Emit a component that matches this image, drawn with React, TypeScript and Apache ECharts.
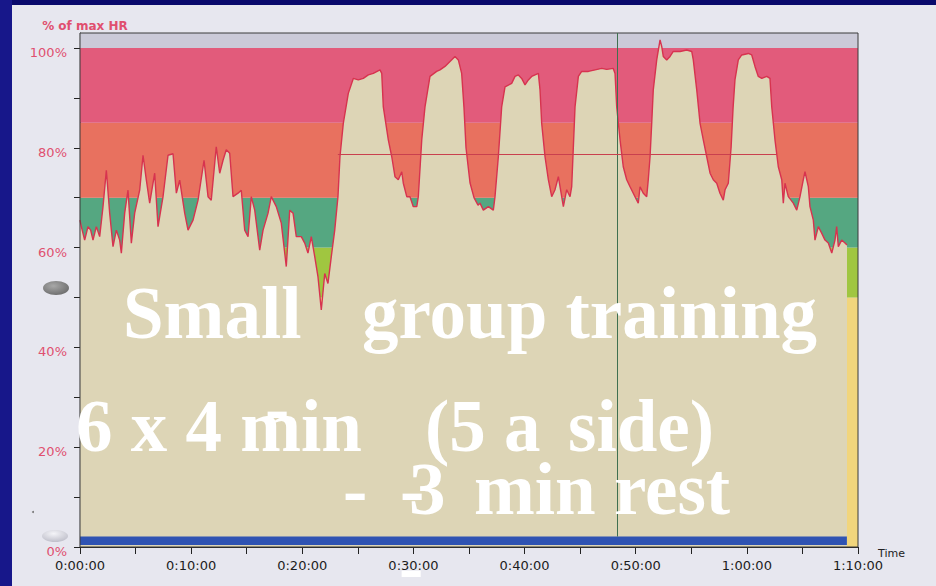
import React, { useEffect, useRef } from "react";
import * as echarts from "echarts";

// Heart-rate trace: time (minutes) and % of max HR
const hrTime = [
  0.0, 0.12, 0.42, 0.72, 0.96, 1.17, 1.47, 1.77, 2.07, 2.37, 2.67, 2.97, 3.27, 3.57, 3.72, 4.02, 4.32, 4.62, 4.92, 5.37,
  5.67, 5.97, 6.27, 6.72, 7.02, 7.47, 7.92, 8.37, 8.67, 8.97, 9.42, 9.72, 10.17, 10.62, 11.16, 11.52,
  11.81, 12.26, 12.57, 12.87, 13.16, 13.47, 13.77, 14.22, 14.51, 14.82, 15.12, 15.41, 15.72, 16.17, 16.47, 16.92, 17.21,
  17.66, 18.11, 18.56, 18.87, 19.17, 19.46, 19.91, 20.22, 20.51, 20.81, 21.12, 21.41, 21.71, 22.02, 22.31, 22.61, 22.92, 23.21,
  23.39, 23.69, 24.14, 24.59, 25.04, 25.49, 25.94, 26.39, 26.99, 27.15, 27.29, 27.74, 28.05, 28.34, 28.64, 28.95, 29.09,
  29.4, 29.69, 29.99, 30.3, 30.44, 30.75, 31.04, 31.49, 32.09, 32.39, 32.84, 33.29, 33.74, 34.04, 34.34, 34.55, 34.73,
  35.09, 35.45, 35.81,
  35.99, 36.29, 36.74, 37.19, 37.34, 37.64, 37.94, 38.24, 38.84, 39.14, 39.44, 39.74, 40.04, 40.34, 40.64, 41.24, 41.39,
  41.54, 41.84, 42.14, 42.44, 42.74, 43.04, 43.34, 43.49, 43.79, 44.09, 44.24, 44.54, 44.84, 45.14, 45.74, 46.34, 46.94,
  47.39, 47.98, 48.14, 48.29, 48.59, 48.88, 49.19, 49.49, 49.78, 50.09, 50.23, 50.39, 50.68, 50.99, 51.13, 51.29, 51.44,
  51.58, 51.89, 52.19, 52.34, 52.48, 52.79, 53.09, 53.38, 53.99, 54.59, 55.04, 55.18, 55.49, 55.79, 56.08, 56.39, 56.69,
  56.98, 57.29, 57.58, 57.88, 58.04, 58.33, 58.58, 58.76,
  58.93, 59.23, 59.54, 60.13, 60.44, 60.73, 61.03, 61.34, 61.79, 62.08, 62.24, 62.53, 62.83, 63.14, 63.28, 63.43, 63.73,
  64.18, 64.49, 64.78, 65.08, 65.23, 65.53, 65.68, 65.98, 66.13, 66.43, 66.73, 67.03, 67.33, 67.64, 67.93, 68.08, 68.23,
  68.53, 68.83, 69.01,
];
const hrPct = [
  65.5, 64.2, 61.5, 64.2, 63.5, 61.5, 64.2, 62.2, 68.2, 75.5, 66.9, 60.2, 63.5, 61.5, 58.9, 66.9, 71.5, 60.9, 66.9, 71.5,
  78.5, 73.5, 68.9, 74.9, 64.2, 70.2, 78.5, 78.8, 70.9, 73.5, 66.9, 63.5, 65.5, 69.5, 77.5, 70.2,
  69.5, 80.2, 74.9, 77.5, 79.6, 78.9, 70.2, 70.9, 71.5, 63.5, 62.2, 70.2, 67.5, 59.5, 63.5, 66.9, 70.2,
  68.2, 64.9, 56.2, 67.5, 66.9, 62.2, 62.2, 60.9, 58.9, 62.2, 58.2, 54.2, 47.5, 54.8, 52.8, 58.2, 63.5, 70.2,
  78.2, 84.9, 90.9, 93.9, 93.6, 93.9, 94.6, 94.9, 95.6, 94.9, 88.2, 81.6, 78.2, 74.2, 73.6, 75.2, 72.9,
  70.2, 70.2, 68.2, 68.2, 70.2, 81.6, 88.2, 94.3, 95.3, 95.6, 96.3, 97.3, 98.3, 97.6, 94.9, 88.0, 80.0,
  73.0, 70.0, 68.5,
  68.9, 67.5, 68.2, 67.5, 70.2, 78.2, 88.2, 92.2, 92.9, 94.3, 94.6, 93.9, 92.6, 93.6, 94.3, 94.9, 91.6,
  84.9, 78.2, 73.6, 70.2, 71.6, 74.2, 70.2, 68.2, 71.6, 70.2, 72.2, 88.2, 94.3, 95.3, 95.3, 95.6, 95.9,
  95.7, 95.9, 94.9, 88.2, 81.6, 76.2, 73.6, 72.2, 70.9, 69.5, 68.9, 72.2, 70.9, 70.2, 73.6, 78.2, 84.9,
  91.6, 97.6, 101.6, 100.3, 98.3, 97.6, 98.3, 99.3, 99.3, 99.6, 99.3, 97.6, 91.6, 84.9, 81.6, 78.2, 74.9,
  73.6, 72.9, 70.9, 69.5, 71.6, 72.9, 80.0, 88.0,
  93.6, 97.6, 98.6, 98.9, 98.6, 96.3, 94.3, 93.9, 94.3, 93.9, 88.2, 81.6, 76.2, 73.6, 68.9, 72.9, 70.2,
  68.9, 67.5, 70.2, 73.6, 75.2, 72.2, 68.2, 65.5, 61.5, 64.2, 62.9, 61.5, 60.9, 58.9, 61.5, 64.2, 60.2,
  61.5, 60.9, 60.5,
];

// Heart-rate zones (% of max HR) and their colours
const zoneBounds = [0, 50, 60, 70, 85, 100, 103];
const zoneColors = ["#f1d57c", "#a0c640", "#55a781", "#e8715f", "#e25b7b", "#cbcad8"];

// Y ticks (%), x ticks (minutes)
const yLabelValues = [0, 20, 40, 60, 80, 100];
const xLabelMinutes = [0, 10, 20, 30, 40, 50, 60, 70];

// Activity bar at the bottom (minutes / %)
const activityStart = 0;
const activityEnd = 69.0;
const activityLow = 0.4;
const activityHigh = 2.1;

// Markers
const markerTime = 48.3; // vertical marker (min)
const avgPct = 78.8; // average line (% of max HR)
const avgStart = 23.2;
const avgEnd = 62.7;

const fmtTime = (m: number) => {
  const h = Math.floor(m / 60);
  const mm = Math.round(m - h * 60);
  return `${h}:${mm < 10 ? "0" + mm : mm}:00`;
};

export default function App() {
  const ref = useRef<HTMLDivElement>(null);
  useEffect(() => {
    document.body.style.margin = "0";
    const chart = echarts.init(ref.current!, null, { renderer: "svg" });
    const hrData = hrTime.map((t, i) => [t, hrPct[i]]);
    const zoneAreas = zoneColors.map((c, i) => [
      { yAxis: zoneBounds[i], itemStyle: { color: c } },
      { yAxis: zoneBounds[i + 1] },
    ]);
    const serif = "'Liberation Serif', 'Times New Roman', serif";
    const white = (text: string, x: number, y: number, size = 73) => ({
      type: "text",
      z: 100,
      x,
      y,
      style: {
        text,
        fill: "#ffffff",
        font: `bold ${size}px ${serif}`,
        textAlign: "left",
        textVerticalAlign: "middle",
      },
    });
    chart.setOption({
      animation: false,
      backgroundColor: "#0a0a6c",
      grid: {
        left: 80,
        top: 33,
        width: 778,
        height: 514,
        show: true,
        borderColor: "#3a3a3a",
        borderWidth: 1,
        backgroundColor: "transparent",
        z: 5,
      },
      xAxis: {
        type: "value",
        min: 0,
        max: 70,
        interval: 5,
        name: "Time",
        nameLocation: "end",
        nameGap: 20,
        nameTextStyle: {
          fontFamily: "DejaVu Sans",
          fontSize: 11,
          color: "#222",
          verticalAlign: "top",
          lineHeight: 12,
        },
        axisLine: { lineStyle: { color: "#222", width: 1.2 } },
        axisTick: { length: 7, lineStyle: { color: "#222" } },
        splitLine: { show: false },
        axisLabel: {
          margin: 12,
          fontFamily: "DejaVu Sans",
          fontSize: 13,
          color: "#1c1c1c",
          formatter: (v: number) => (xLabelMinutes.includes(v) ? fmtTime(v) : ""),
        },
      },
      yAxis: {
        type: "value",
        min: 0,
        max: 103,
        interval: 10,
        name: "% of max HR",
        nameLocation: "end",
        nameGap: 1,
        nameTextStyle: {
          fontFamily: "DejaVu Sans",
          fontSize: 12,
          fontWeight: "bold",
          color: "#e0506f",
          align: "center",
          padding: [0, 0, 0, 10],
        },
        axisLine: { show: true, lineStyle: { color: "#222", width: 1.2 } },
        axisTick: { length: 6, lineStyle: { color: "#222" } },
        splitLine: { show: false },
        axisLabel: {
          margin: 13,
          showMaxLabel: false,
          fontFamily: "DejaVu Sans",
          fontSize: 13,
          color: "#e0506f",
          verticalAlign: "top",
          lineHeight: 9,
          formatter: (v: number) => (yLabelValues.includes(v) ? v + "%" : ""),
        },
      },
      series: [
        {
          type: "line",
          data: [],
          z: 1,
          silent: true,
          markArea: { silent: true, z: 1, data: zoneAreas },
        },
        {
          type: "line",
          data: hrData,
          z: 2,
          symbol: "none",
          lineStyle: { color: "#d7334f", width: 1.4 },
          areaStyle: { color: "#ddd5b6", opacity: 1 },
        },
        {
          type: "line",
          data: [],
          z: 3,
          silent: true,
          markArea: {
            silent: true,
            z: 4,
            data: [
              [
                { coord: [activityStart, activityLow], itemStyle: { color: "#2f53b2" } },
                { coord: [activityEnd, activityHigh] },
              ],
            ],
          },
          markLine: {
            silent: true,
            z: 5,
            symbol: "none",
            label: { show: false },
            data: [
              [
                { coord: [markerTime, activityHigh], lineStyle: { color: "#3f7050", width: 1, type: "solid" } },
                { coord: [markerTime, 103] },
              ],
              [
                { coord: [avgStart, avgPct], lineStyle: { color: "#c9404e", width: 1, type: "solid" } },
                { coord: [avgEnd, avgPct] },
              ],
            ],
          },
        },
      ],
      graphic: [
        { type: "rect", z: -10, shape: { x: 0, y: 0, width: 12, height: 586 }, style: { fill: "#17178a" } },
        { type: "rect", z: -10, shape: { x: 12, y: 5, width: 924, height: 581 }, style: { fill: "#e7e7ef" } },
        {
          type: "ellipse",
          z: 10,
          shape: { cx: 56, cy: 288, rx: 13, ry: 7 },
          style: {
            fill: new echarts.graphic.RadialGradient(0.4, 0.35, 0.7, [
              { offset: 0, color: "#a8a8a8" },
              { offset: 1, color: "#6c6c6c" },
            ]),
          },
        },
        {
          type: "ellipse",
          z: 10,
          shape: { cx: 55, cy: 536, rx: 13, ry: 6 },
          style: {
            fill: new echarts.graphic.RadialGradient(0.45, 0.3, 0.8, [
              { offset: 0, color: "#f4f4f8" },
              { offset: 1, color: "#b8b8c4" },
            ]),
          },
        },
        { type: "circle", z: 10, shape: { cx: 33, cy: 512, r: 1 }, style: { fill: "#777" } },
        white("Small", 123, 313),
        white("group training", 362, 313),
        white("6 x 4 min", 76, 426),
        white("-", 265, 407),
        white("(5 a", 425, 426),
        white("side)", 568, 426),
        white("-", 343, 489),
        white("-", 400, 489),
        white("3", 409, 489),
        white("min rest", 474, 489),
        white("-", 399, 566),
      ],
    });
    return () => chart.dispose();
  }, []);
  return <div ref={ref} style={{ width: 936, height: 586 }} />;
}
